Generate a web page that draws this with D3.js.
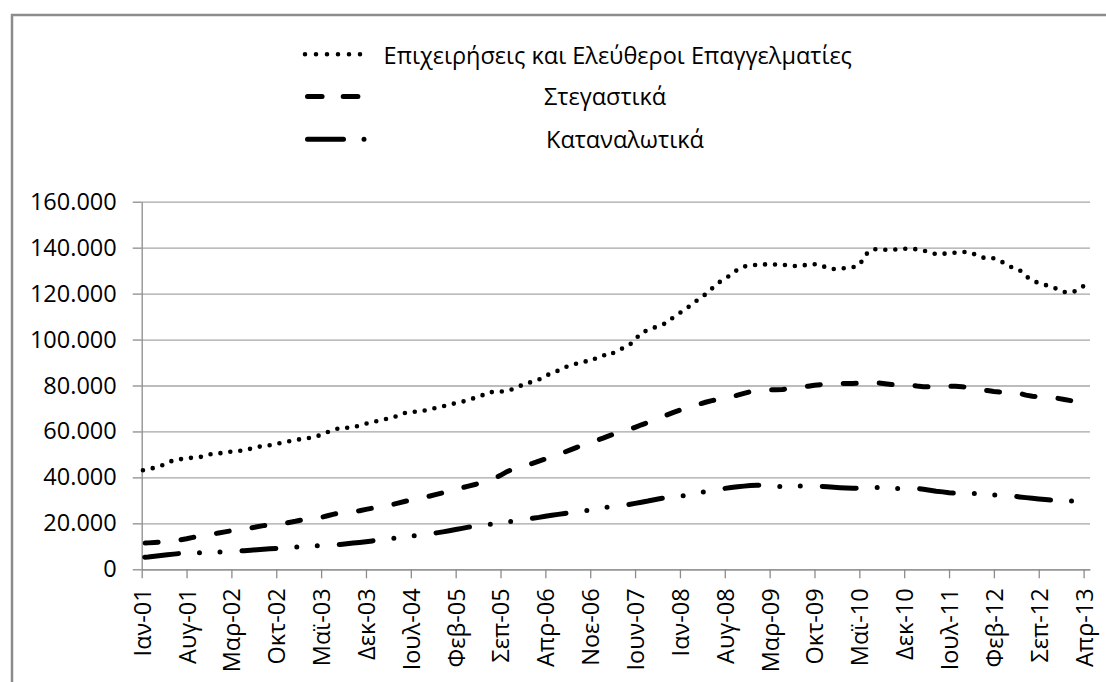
<!DOCTYPE html>
<html>
<head>
<meta charset="utf-8">
<script src="https://cdn.jsdelivr.net/npm/d3@7"></script>
<style>
body { margin: 0; background: #fff; }
svg { display: block; font-family: "Open Sans", sans-serif; }
.grid line { stroke: #a6a6a6; stroke-width: 1.3; }
.grid .domain { display: none; }
.axis .domain, .axis line { stroke: #8c8c8c; stroke-width: 1.3; }
.axis text { fill: #000; font-size: 23.5px; font-family: "Open Sans", sans-serif; }
.legend text { font-size: 23.5px; fill: #000; }
.series { fill: none; stroke: #000; }
</style>
</head>
<body>
<div class="container"></div>
<script>
var seriesNames = ["Επιχειρήσεις και Ελεύθεροι Επαγγελματίες", "Στεγαστικά", "Καταναλωτικά"];

var tickLabels = ["Ιαν-01", "Αυγ-01", "Μαρ-02", "Οκτ-02", "Μαϊ-03", "Δεκ-03", "Ιουλ-04", "Φεβ-05",
  "Σεπ-05", "Απρ-06", "Νοε-06", "Ιουν-07", "Ιαν-08", "Αυγ-08", "Μαρ-09", "Οκτ-09", "Μαϊ-10",
  "Δεκ-10", "Ιουλ-11", "Φεβ-12", "Σεπ-12", "Απρ-13"];

var yTicks = [0, 20, 40, 60, 80, 100, 120, 140, 160];

// monthly values, thousands, Jan 2001 .. Apr 2013
var business = [43.0,43.6,44.2,45.0,46.2,47.6,47.9,48.3,48.6,48.8,
  49.4,50.3,50.5,50.7,51.3,51.5,51.7,52.5,53.2,53.7,
  54.0,54.5,55.3,55.7,56.2,56.8,57.1,57.5,58.6,59.7,
  60.7,61.6,61.6,61.7,62.7,63.4,63.9,64.8,65.4,65.7,
  67.0,68.0,68.6,68.6,69.0,69.8,70.2,70.9,71.7,72.3,
  72.9,73.8,74.6,75.5,77.0,77.2,77.3,77.6,78.5,79.7,
  81.1,81.5,82.6,84.4,85.1,86.5,88.0,88.6,89.7,90.5,
  90.5,92.1,93.2,92.9,95.1,96.1,97.3,99.9,103.1,104.0,
  105.2,106.3,107.3,109.8,111.6,113.4,115.7,117.7,119.7,122.2,
  124.7,126.5,128.2,130.5,131.8,132.1,132.6,132.8,132.5,132.7,
  132.7,132.1,132.0,132.1,132.7,132.8,132.5,131.0,130.7,130.8,
  131.2,131.5,132.3,137.0,139.3,139.3,139.1,139.1,139.3,139.5,
  139.5,139.3,138.7,138.0,137.1,137.3,137.6,137.8,138.1,138.1,
  137.1,135.9,135.2,135.4,134.2,132.7,131.1,130.3,127.6,125.7,
  124.6,123.8,122.9,121.9,120.7,120.5,121.3,123.3];

var housing = [11.3,11.5,11.7,11.9,12.2,12.5,12.8,13.3,13.9,14.4,
  14.9,15.3,15.8,16.3,16.8,17.2,17.6,18.0,18.5,19.0,
  19.4,19.7,19.9,20.4,20.9,21.5,21.8,22.2,22.6,23.3,
  24.0,24.5,24.8,25.0,25.5,26.1,26.6,27.1,27.6,28.1,
  28.8,29.5,30.1,30.7,31.3,31.9,32.6,33.3,34.0,34.8,
  35.5,36.2,36.9,37.7,38.7,39.6,40.9,42.5,43.7,44.4,
  45.2,46.1,47.1,48.0,49.0,50.0,51.0,52.1,53.2,54.2,
  55.2,56.1,57.1,58.2,59.1,59.9,60.7,61.8,62.9,63.9,
  65.0,66.2,67.2,68.3,69.3,70.2,71.1,71.9,72.7,73.4,
  74.0,74.5,75.0,75.8,76.6,77.3,77.6,77.9,78.1,78.2,
  78.3,78.6,79.0,79.3,79.7,80.1,80.4,80.6,80.8,80.9,
  80.9,80.9,81.0,81.2,81.4,81.1,80.8,80.4,80.4,80.4,
  80.2,79.8,79.5,79.5,79.6,79.7,79.7,79.7,79.5,79.1,
  78.6,78.2,77.8,77.4,77.1,77.1,77.1,76.6,75.8,75.3,
  75.2,75.1,74.9,74.4,73.9,73.4,72.9,72.5];

var consumer = [5.2,5.4,5.7,6.0,6.3,6.6,6.9,7.05,7.1,7.2,
  7.3,7.4,7.5,7.6,7.8,7.95,8.1,8.3,8.5,8.7,
  8.9,9.1,9.3,9.5,9.7,9.85,10.0,10.2,10.35,10.45,
  10.55,10.8,11.1,11.4,11.7,12.0,12.35,12.7,13.0,13.4,
  13.75,14.1,14.45,14.8,15.1,15.45,15.85,16.3,16.8,17.3,
  17.8,18.35,18.8,19.15,19.5,19.85,20.2,20.55,20.9,21.35,
  21.8,22.2,22.6,23.1,23.5,23.9,24.3,24.7,25.0,25.4,
  25.8,26.3,26.8,27.2,27.5,27.8,28.2,28.7,29.2,29.7,
  30.3,30.8,31.15,31.45,31.8,32.2,32.7,33.3,33.8,34.3,
  34.8,35.2,35.6,35.9,36.2,36.5,36.6,36.5,36.3,36.1,
  36.05,36.15,36.25,36.3,36.25,36.2,36.1,35.9,35.7,35.5,
  35.35,35.25,35.3,35.5,35.65,35.6,35.45,35.3,35.2,35.25,
  35.3,35.2,34.8,34.4,34.0,33.7,33.3,33.15,33.1,33.1,
  33.0,32.75,32.55,32.35,32.2,32.0,31.85,31.5,31.2,30.9,
  30.6,30.35,30.15,30.0,29.85,29.75,29.6,29.5];

var width = 1106, height = 682;
var plotLeft = 141.7, plotRight = 1090, plotTop = 201.7, plotBottom = 569.3;

var svg = d3.select(".container").append("svg")
  .attr("width", width)
  .attr("height", height);

// outer chart frame
svg.append("rect")
  .attr("x", 12).attr("y", 15)
  .attr("width", 1120).attr("height", 700)
  .attr("fill", "none")
  .attr("stroke", "#8c8c8c")
  .attr("stroke-width", 2.5);

var x = d3.scaleLinear().domain([0, business.length]).range([plotLeft, plotRight]);
var y = d3.scaleLinear().domain([0, 160]).range([plotBottom, plotTop]);

var locale = d3.formatLocale({ decimal: ",", thousands: ".", grouping: [3], currency: ["", "€"] });
var fmt = locale.format(",");

svg.append("g")
  .attr("class", "grid")
  .attr("transform", "translate(" + plotLeft + ",0)")
  .call(d3.axisLeft(y).tickValues(yTicks).tickSize(-(plotRight - plotLeft)).tickFormat(""));

svg.append("g")
  .attr("class", "axis y")
  .attr("transform", "translate(" + plotLeft + ",0)")
  .call(d3.axisLeft(y).tickValues(yTicks).tickSize(9).tickSizeOuter(0).tickPadding(16)
    .tickFormat(function(d) { return fmt(d * 1000); }));

var xAxis = svg.append("g")
  .attr("class", "axis x")
  .attr("transform", "translate(0," + plotBottom + ")")
  .call(d3.axisBottom(x).tickValues(d3.range(0, business.length, 7)).tickSize(9).tickSizeOuter(0)
    .tickFormat(function(d, i) { return tickLabels[i]; }));

xAxis.selectAll("text")
  .attr("transform", "rotate(-90)")
  .attr("text-anchor", "end")
  .attr("x", -19)
  .attr("y", 0)
  .attr("dy", "0.36em")
  .attr("dx", 0);

var line = d3.line()
  .x(function(d, i) { return x(i); })
  .y(function(d) { return y(d); });

var dotted = svg.append("path")
  .datum(business)
  .attr("class", "series")
  .attr("d", line)
  .attr("stroke-width", 4.6)
  .attr("stroke-linecap", "round")
  .attr("stroke-dasharray", "0,10");

// put a dot just before the last month's end, like the original
var len = dotted.node().getTotalLength() - 0.6;
dotted.attr("stroke-dashoffset", (10 - (len % 10)) % 10);

svg.append("path")
  .datum(housing)
  .attr("class", "series")
  .attr("d", line)
  .attr("stroke-width", 5)
  .attr("stroke-linecap", "round")
  .attr("stroke-dasharray", "13,23")
  .attr("stroke-dashoffset", 32.5);

svg.append("path")
  .datum(consumer)
  .attr("class", "series")
  .attr("d", line)
  .attr("stroke-width", 5)
  .attr("stroke-linecap", "round")
  .attr("stroke-dasharray", "34,21,0,20.5,0,22")
  .attr("stroke-dashoffset", 94.5);

// legend
var legend = svg.append("g").attr("class", "legend");

legend.append("line")
  .attr("x1", 305).attr("x2", 371).attr("y1", 54.3).attr("y2", 54.3)
  .attr("stroke", "#000").attr("stroke-width", 4.6)
  .attr("stroke-linecap", "round").attr("stroke-dasharray", "0,11");

legend.append("line")
  .attr("x1", 307.5).attr("x2", 357.9).attr("y1", 96.4).attr("y2", 96.4)
  .attr("stroke", "#000").attr("stroke-width", 5)
  .attr("stroke-linecap", "round").attr("stroke-dasharray", "14.6,21.1,14.7");

legend.append("line")
  .attr("x1", 307.5).attr("x2", 367).attr("y1", 139.3).attr("y2", 139.3)
  .attr("stroke", "#000").attr("stroke-width", 5)
  .attr("stroke-linecap", "round").attr("stroke-dasharray", "36,20.5,0,100");

legend.selectAll("text")
  .data(seriesNames)
  .enter()
  .append("text")
  .attr("x", function(d, i) { return [383.6, 544, 546][i]; })
  .attr("y", function(d, i) { return [63.5, 105, 147.5][i]; })
  .text(function(d) { return d; });
</script>
</body>
</html>
